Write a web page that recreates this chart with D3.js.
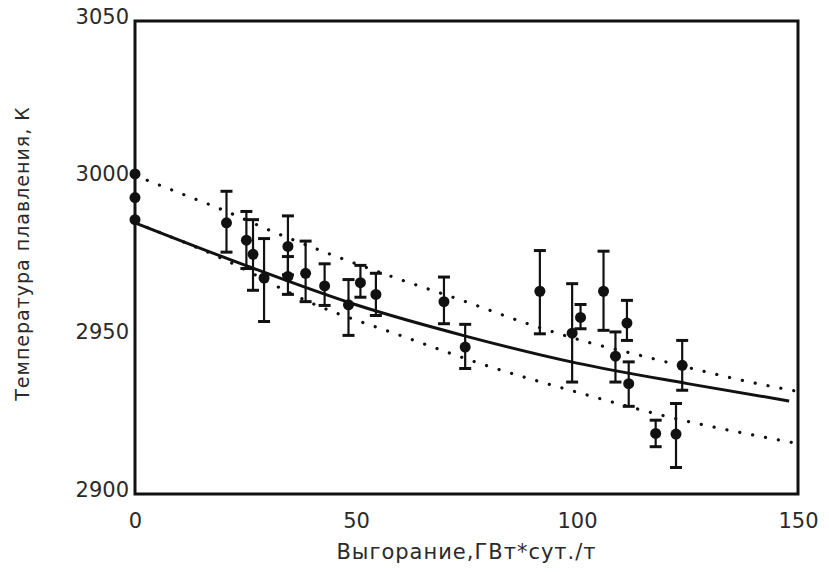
<!DOCTYPE html>
<html>
<head>
<meta charset="utf-8">
<script src="https://cdn.jsdelivr.net/npm/d3@7"></script>
<style>
  body { margin: 0; background: #fff; }
  text { font-family: "DejaVu Sans", sans-serif; fill: #2a2a2a; }
</style>
</head>
<body>
<div id="chart"></div>
<script>
// Measured points: burnup (GWd/t), melting temperature (K), error bar ends
const burnup = [0, 0, 0, 20.7, 25.2, 26.7, 29.2, 34.6, 34.6, 38.6, 42.9, 48.3, 51, 54.5,
                69.9, 74.7, 91.6, 98.9, 100.8, 106, 108.7, 111.3, 111.7, 117.8, 122.4, 123.8];
const temp   = [3001.5, 2994, 2987, 2986, 2980.5, 2976, 2968.5, 2978.5, 2969, 2970, 2966, 2960, 2967, 2963.3,
                2961, 2946.6, 2964.3, 2951, 2956, 2964.3, 2943.7, 2954.2, 2935, 2919.2, 2919, 2940.8];
const errHi  = [null, null, null, 2996, 2989.6, 2987, 2981, 2988.2, 2975.3, 2980.2, 2973, 2968, 2972.5, 2970,
                2968.8, 2953.8, 2977.2, 2966.7, 2960.1, 2977, 2951.4, 2961.4, 2941.9, 2923.4, 2928.7, 2948.7];
const errLo  = [null, null, null, 2976.7, 2971.5, 2964.6, 2954.7, 2969.5, 2963.3, 2961, 2959.8, 2950.3, 2962.4, 2956.6,
                2954, 2939.8, 2950.8, 2935.5, 2952.4, 2951.9, 2935.5, 2948.7, 2927.8, 2915, 2908.4, 2932.9];

// Fitted curve (solid)
const fitX = [0, 25, 50, 75, 100, 125, 148];
const fitY = [2986, 2972.5, 2960, 2950, 2941.5, 2935, 2929.5];

// Confidence band (dotted)
const upX = [0, 10, 20, 31.2, 43.5, 59, 74.4, 89.9, 102.3, 115, 127.8, 137.2, 150];
const upY = [3001, 2995.5, 2990, 2983.2, 2976.4, 2968.5, 2961.2, 2953.5, 2948.2, 2943.7, 2939.2, 2936.1, 2932.5];
const loX = [0, 20, 40, 60, 80, 100, 120, 150];
const loY = [2986, 2974.5, 2960.5, 2950.3, 2940.5, 2932.3, 2924.7, 2916];

const xTicks = [0, 50, 100, 150];
const yTicks = [2900, 2950, 3000, 3050];

const margin = { top: 21, right: 31, bottom: 78, left: 135 },
      width = 829 - margin.left - margin.right,
      height = 572 - margin.top - margin.bottom;

const svg = d3.select("#chart")
    .append("svg")
    .attr("width", 829)
    .attr("height", 572)
    .append("g")
    .attr("transform", `translate(${margin.left},${margin.top})`);

const x = d3.scaleLinear().domain([0, 150]).range([0, width]);
const y = d3.scaleLinear().domain([2900, 3050]).range([height, 0]);

// Axes: labels only, no tick marks
const xAxis = svg.append("g")
    .attr("transform", `translate(0,${height})`)
    .call(d3.axisBottom(x).tickValues(xTicks).tickFormat(d3.format("d")).tickSize(0).tickPadding(19));
const yAxis = svg.append("g")
    .call(d3.axisLeft(y).tickValues(yTicks).tickFormat(d3.format("d")).tickSize(0).tickPadding(6));
[xAxis, yAxis].forEach(a => {
    a.select(".domain").remove();
    a.selectAll("text").style("font-size", "21px").attr("fill", "#2a2a2a");
});
yAxis.selectAll("text").attr("dy", "0.1em");

const line = d3.line().x(d => x(d[0])).y(d => y(d[1])).curve(d3.curveMonotoneX);

// Dotted bands
[[upX, upY], [loX, loY]].forEach(([xs, ys]) => {
    svg.append("path")
        .datum(xs.map((v, i) => [v, ys[i]]))
        .attr("d", line)
        .attr("fill", "none")
        .attr("stroke", "#111")
        .attr("stroke-width", 3.2)
        .attr("stroke-linecap", "round")
        .attr("stroke-dasharray", "0.1,13");
});

// Fit curve
svg.append("path")
    .datum(fitX.map((v, i) => [v, fitY[i]]))
    .attr("d", line)
    .attr("fill", "none")
    .attr("stroke", "#111")
    .attr("stroke-width", 3);

// Error bars
const pts = burnup.map((b, i) => ({ b, t: temp[i], hi: errHi[i], lo: errLo[i] }));
const eb = svg.selectAll(".err")
    .data(pts.filter(d => d.hi !== null))
    .enter().append("g")
    .attr("class", "err")
    .attr("stroke", "#111")
    .attr("stroke-width", 2.2);
eb.append("line")
    .attr("x1", d => x(d.b)).attr("x2", d => x(d.b))
    .attr("y1", d => y(d.hi)).attr("y2", d => y(d.lo));
eb.append("line")
    .attr("x1", d => x(d.b) - 6).attr("x2", d => x(d.b) + 6)
    .attr("y1", d => y(d.hi)).attr("y2", d => y(d.hi))
    .attr("stroke-width", 3);
eb.append("line")
    .attr("x1", d => x(d.b) - 6).attr("x2", d => x(d.b) + 6)
    .attr("y1", d => y(d.lo)).attr("y2", d => y(d.lo))
    .attr("stroke-width", 3);

// Points
svg.selectAll(".pt")
    .data(pts)
    .enter().append("circle")
    .attr("class", "pt")
    .attr("cx", d => x(d.b))
    .attr("cy", d => y(d.t))
    .attr("r", 5.5)
    .attr("fill", "#111");

// Frame
svg.append("rect")
    .attr("width", width)
    .attr("height", height)
    .attr("fill", "none")
    .attr("stroke", "#111")
    .attr("stroke-width", 3);

// Titles
svg.append("text")
    .attr("x", width / 2)
    .attr("y", height + 65)
    .attr("text-anchor", "middle")
    .style("font-size", "21px")
    .style("letter-spacing", "1px")
    .text("Выгорание,ГВт*сут./т");

svg.append("text")
    .attr("transform", "rotate(-90)")
    .attr("x", -height / 2 + 4)
    .attr("y", -margin.left + 29)
    .attr("text-anchor", "middle")
    .style("font-size", "19px")
    .style("letter-spacing", "1px")
    .text("Температура плавления, К");
</script>
</body>
</html>
